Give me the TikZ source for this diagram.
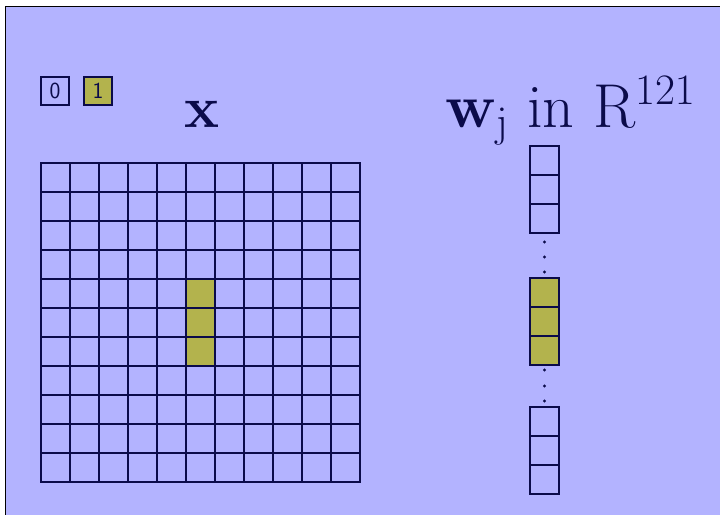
\RequirePackage{fix-cm}
\documentclass[tikz,border=0pt]{standalone}
\usepackage{amsmath}
\usepackage{tikz}
\usetikzlibrary{positioning}
\definecolor{bglav}{HTML}{B3B3FF}
\definecolor{cellnavy}{HTML}{0B0B4A}
\definecolor{onolive}{HTML}{B3B34D}

\begin{document}
\begin{tikzpicture}[x=1pt,y=-1pt,
    cell/.style={draw=cellnavy,line width=2pt,fill=bglav,minimum size=29pt,inner sep=0pt},
    oncell/.style={cell,fill=onolive},
    keybox/.style={draw=cellnavy,line width=2pt,minimum size=28pt,inner sep=0pt,
      text=cellnavy,font=\sffamily\fontsize{23}{23}\selectfont}]
    \useasboundingbox (0,0) rectangle (720,514);
    \filldraw[fill=bglav,draw=black,line width=0.8pt] (5,6) rectangle (740,530);
    % key
    \node[keybox] (k0) at (55,91) {0};
    \node[keybox,fill=onolive,right=13pt of k0] (k1) {1};
    % image x, 11 by 11
    \foreach \i in {0,...,10}
      \foreach \j in {0,...,10}
        \node[cell] (c-\i-\j) at (55.5+29*\i,177.5+29*\j) {};
    \foreach \j in {4,5,6}
      \node[oncell] at (c-5-\j) {};
    \node[text=cellnavy,anchor=base,font=\fontsize{59}{60}\selectfont] (xlab) at (202,127) {$\mathbf{x}$};
    % weight vector
    \node[text=cellnavy,anchor=base west,font=\fontsize{62}{64}\selectfont] (wlab) at (442,127)
      {$\mathbf{w}_{\mathrm{j}}$ in R$^{121}$};
    \foreach \n/\y in {1/160.5,2/189.5,3/218.5,7/421.5,8/450.5,9/479.5}
      \node[cell] (w\n) at (544.5,\y) {};
    \foreach \n/\y in {4/292.5,5/321.5,6/350.5}
      \node[oncell] (w\n) at (544.5,\y) {};
    \foreach \y in {242,257,272,370,386,401}
      \fill[cellnavy] (544.5,\y) circle (1.7pt);
  \end{tikzpicture}
\end{document}
